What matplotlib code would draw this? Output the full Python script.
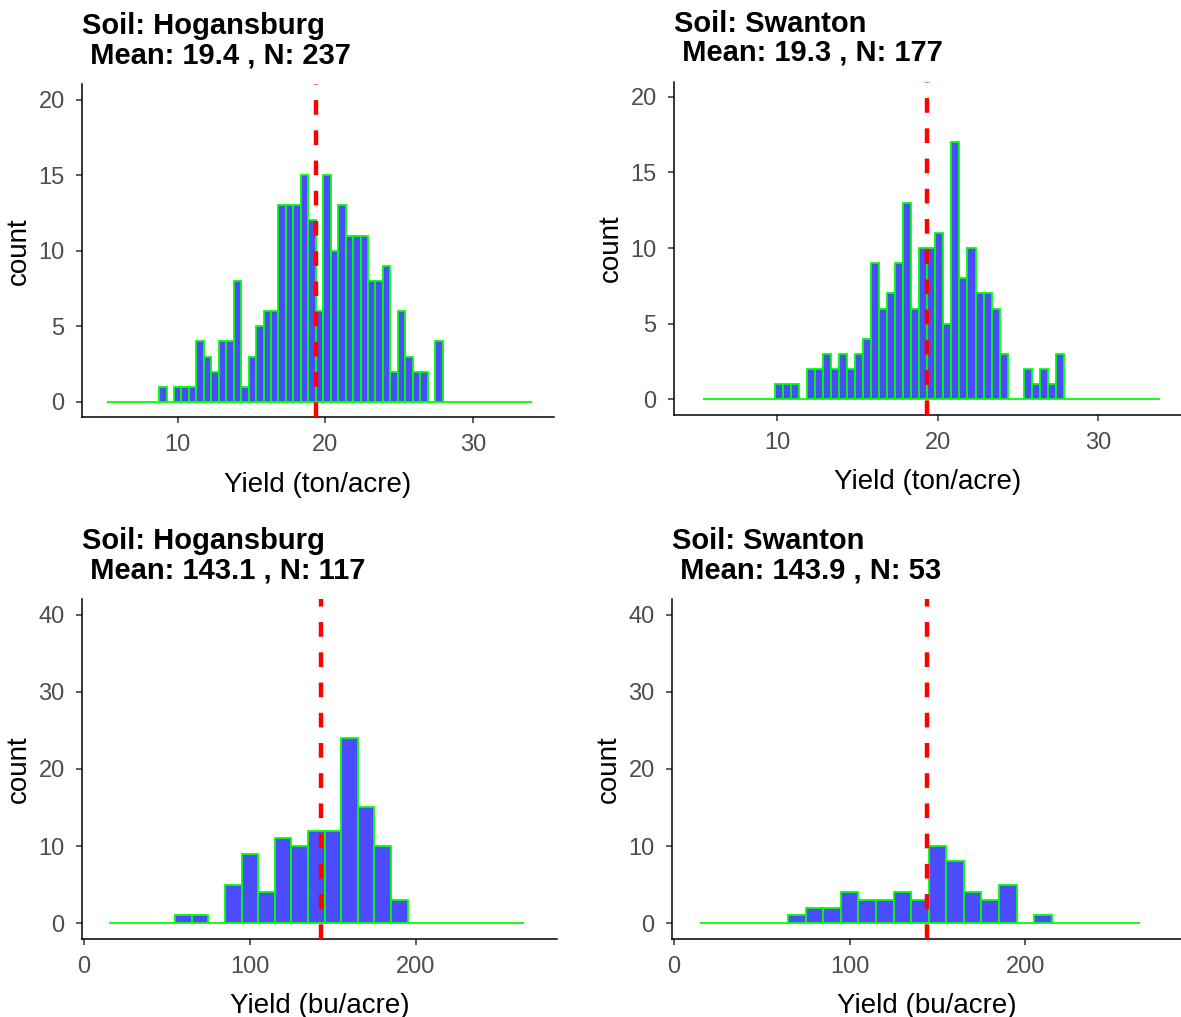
import matplotlib
matplotlib.use("Agg")
import matplotlib.pyplot as plt

plt.rcParams['font.family'] = ['Liberation Sans', 'DejaVu Sans']

# bin counts (zero bins included, they draw the flat line)
hog_ton_counts = [0, 0, 0, 0, 0, 0, 0,
                  1, 0, 1, 1, 1, 4, 3, 2, 4, 4, 8, 1, 3, 5, 6, 6, 13, 13, 13,
                  15, 12, 6, 15, 10, 13, 11, 11, 11, 8, 8, 9, 2, 6, 3, 2, 2, 0, 4,
                  0, 0, 0, 0, 0, 0, 0, 0, 0, 0, 0, 0]
hog_ton_start = 5.215
hog_ton_width = 0.505

swa_ton_counts = [0, 0, 0, 0, 0, 0, 0, 0, 0,
                  1, 1, 1, 0, 2, 2, 3, 2, 3, 2, 3, 4, 9, 6, 7, 9, 13, 6, 10, 10,
                  11, 5, 17, 8, 10, 7, 7, 6, 3, 0, 0, 2, 1, 2, 1, 3,
                  0, 0, 0, 0, 0, 0, 0, 0, 0, 0, 0, 0]
swa_ton_start = 5.35
swa_ton_width = 0.5

hog_bu_counts = [0, 0, 0, 0, 1, 1, 0, 5, 9, 4, 11, 10, 12, 12, 24, 15, 10, 3,
                 0, 0, 0, 0, 0, 0, 0]
hog_bu_start = 15
hog_bu_width = 10

swa_bu_counts = [0, 0, 0, 0, 0, 1, 2, 2, 4, 3, 3, 4, 3, 10, 8, 4, 3, 5, 0, 1,
                 0, 0, 0, 0, 0]
swa_bu_start = 15
swa_bu_width = 10

titles = ["Soil: Hogansburg\n Mean: 19.4 , N: 237",
          "Soil: Swanton\n Mean: 19.3 , N: 177",
          "Soil: Hogansburg\n Mean: 143.1 , N: 117",
          "Soil: Swanton\n Mean: 143.9 , N: 53"]
means = [19.4, 19.3, 143.1, 143.9]
xlabels = ["Yield (ton/acre)", "Yield (ton/acre)", "Yield (bu/acre)", "Yield (bu/acre)"]
ton_xticks = [10, 20, 30]
bu_xticks = [0, 100, 200]
ton_yticks = [0, 5, 10, 15, 20]
bu_yticks = [0, 10, 20, 30, 40]

W, H = 1181, 1017
fig = plt.figure(figsize=(W / 100, H / 100), dpi=100)


def box(l, r, t, b):
    return [l / W, 1 - b / H, (r - l) / W, (b - t) / H]


panels = [
    (box(82, 554, 84.4, 417), hog_ton_counts, hog_ton_start, hog_ton_width,
     (3.53, 35.48), (-1, 21), ton_xticks, ton_yticks),
    (box(674, 1181, 81.6, 414.5), swa_ton_counts, swa_ton_start, swa_ton_width,
     (3.57, 35.15), (-1, 21), ton_xticks, ton_yticks),
    (box(82, 557, 599.4, 938.5), hog_bu_counts, hog_bu_start, hog_bu_width,
     (-1.1, 285), (-2, 42), bu_xticks, bu_yticks),
    (box(672, 1181, 599.4, 938.5), swa_bu_counts, swa_bu_start, swa_bu_width,
     (-1, 288.5), (-2, 42), bu_xticks, bu_yticks),
]

for i, (rect, counts, start, width, xl, yl, xt, yt) in enumerate(panels):
    ax = fig.add_axes(rect)
    lefts = [start + k * width for k in range(len(counts))]
    ax.bar(lefts, counts, width=width, align='edge', color='#4B4BFF',
           edgecolor='#00FF00', linewidth=1.3, zorder=2)
    ax.axvline(means[i], color='#FF0000', lw=3.2, dashes=(3.3, 3.5), zorder=3)
    ax.set_xlim(*xl)
    ax.set_ylim(*yl)
    ax.set_xticks(xt)
    ax.set_yticks(yt)
    for s in ['top', 'right']:
        ax.spines[s].set_visible(False)
    for s in ['left', 'bottom']:
        ax.spines[s].set_linewidth(1.1)
        ax.spines[s].set_color('black')
    ax.tick_params(length=4.5, width=1.1, color='#333333', labelcolor='#4D4D4D',
                   labelsize=17, pad=8)
    ax.set_xlabel(xlabels[i], fontsize=20, labelpad=11)
    ax.set_ylabel("count", fontsize=20, labelpad=4.5)
    ax.set_title(titles[i], loc='left', fontsize=21, fontweight='bold',
                 pad=15, linespacing=1.05)

fig.savefig("out.png", dpi=100)
